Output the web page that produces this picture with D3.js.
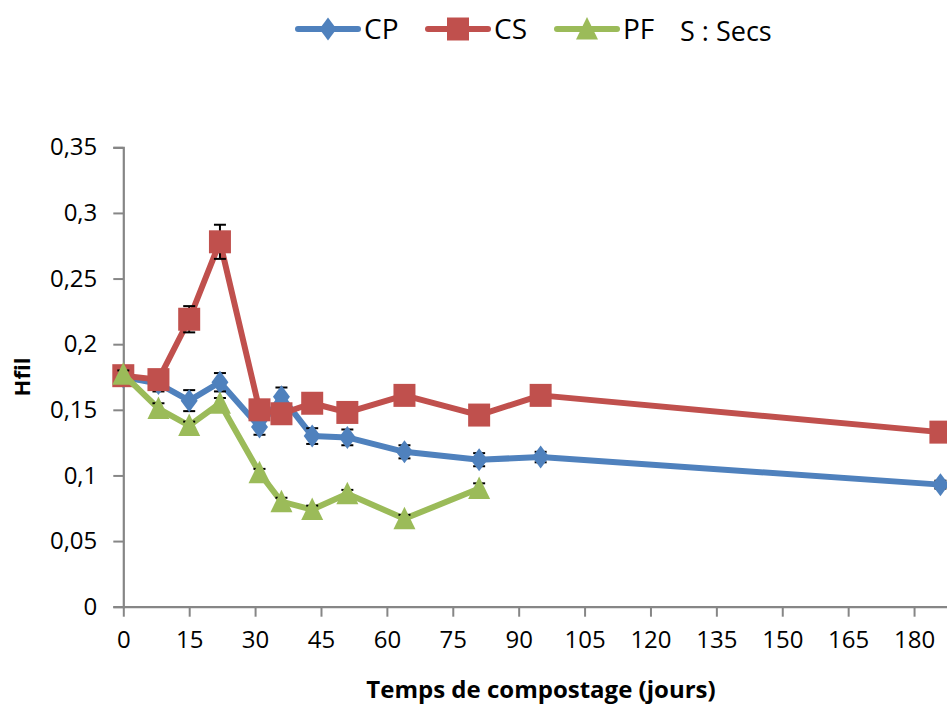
<!DOCTYPE html>
<html><head><meta charset="utf-8">
<script src="https://cdn.jsdelivr.net/npm/d3@7"></script>
<style>html,body{margin:0;padding:0;background:#fff;}svg{display:block;}</style>
</head><body>
<svg id="chart" width="947" height="705"></svg>
<script>
const days = [0, 8, 15, 22, 31, 36, 43, 51, 64, 81, 95, 186];
const cpValues = [0.175, 0.170, 0.157, 0.171, 0.137, 0.160, 0.130, 0.129, 0.118, 0.112, 0.114, 0.093];
const cpErrors = [0.004, 0.006, 0.008, 0.007, 0.006, 0.007, 0.006, 0.006, 0.005, 0.005, 0.004, 0.003];
const csValues = [0.176, 0.173, 0.219, 0.278, 0.150, 0.147, 0.155, 0.148, 0.161, 0.146, 0.161, 0.133];
const csErrors = [0.003, 0.004, 0.010, 0.013, 0.004, 0.004, 0.005, 0.003, 0.003, 0.003, 0.003, 0.003];
const pfDays = [0, 8, 15, 22, 31, 36, 43, 51, 64, 81];
const pfValues = [0.177, 0.151, 0.138, 0.155, 0.102, 0.080, 0.074, 0.086, 0.067, 0.090];
const pfErrors = [0.003, 0.004, 0.003, 0.004, 0.003, 0.003, 0.003, 0.003, 0.003, 0.004];
const xTicks = [0, 15, 30, 45, 60, 75, 90, 105, 120, 135, 150, 165, 180];
const yTicks = [0, 0.05, 0.1, 0.15, 0.2, 0.25, 0.3, 0.35];
const seriesNames = ["CP", "CS", "PF"];
const legendNote = "S : Secs";
const xTitle = "Temps de compostage (jours)";
const yTitle = "Hfil";

const colors = {CP: "#4F81BD", CS: "#C0504D", PF: "#9BBB59"};
const font = "'Open Sans', 'Liberation Sans', sans-serif";

const svg = d3.select("#chart");
const x = d3.scaleLinear().domain([0, 187.5]).range([123.3, 947]);
const y = d3.scaleLinear().domain([0, 0.35]).range([606.7, 147.3]);

// axes
const axisColor = "#868686";
const xAxis = svg.append("g").attr("transform", `translate(0,${y(0)})`)
  .call(d3.axisBottom(x).tickValues(xTicks).tickSize(10).tickPadding(10).tickFormat(d3.format("d")));
const yAxis = svg.append("g").attr("transform", `translate(${x(0)},0)`)
  .call(d3.axisLeft(y).tickValues(yTicks).tickSize(10).tickPadding(16)
    .tickFormat(d => d === 0 ? "0" : String(d).replace(".", ",")));
[xAxis, yAxis].forEach(g => {
  g.select(".domain").attr("stroke", axisColor).attr("stroke-width", 2.2);
  g.selectAll(".tick line").attr("stroke", axisColor).attr("stroke-width", 2);
  g.selectAll(".tick text").attr("fill", "#000").style("font-family", font).style("font-size", "24px");
});
xAxis.select(".domain").attr("d", `M${x(0)},0.5H947`);
xAxis.selectAll(".tick text").attr("dy", "0.88em");

// markers
function markerPath(name) {
  if (name === "CP") return "M0,-11.5L8.5,0L0,11.5L-8.5,0Z";
  if (name === "CS") return "M-11,-11.5H11V11.5H-11Z";
  return "M0,-12L11,10.5H-11Z";
}

const series = [
  {name: "CP", xs: days, ys: cpValues, es: cpErrors},
  {name: "CS", xs: days, ys: csValues, es: csErrors},
  {name: "PF", xs: pfDays, ys: pfValues, es: pfErrors}
];

const line = d3.line().x(d => x(d[0])).y(d => y(d[1]));
series.forEach(s => {
  const pts = s.xs.map((d, i) => [d, s.ys[i], s.es[i]]);
  const g = svg.append("g");
  g.append("path").datum(pts).attr("d", line).attr("fill", "none")
    .attr("stroke", colors[s.name]).attr("stroke-width", 6).attr("stroke-linejoin", "round");
  const eb = g.append("g").attr("stroke", "#000").attr("stroke-width", 2);
  pts.forEach(p => {
    const cx = x(p[0]);
    eb.append("line").attr("x1", cx).attr("x2", cx).attr("y1", y(p[1] - p[2])).attr("y2", y(p[1] + p[2]));
    eb.append("line").attr("x1", cx - 6).attr("x2", cx + 6).attr("y1", y(p[1] + p[2])).attr("y2", y(p[1] + p[2]));
    eb.append("line").attr("x1", cx - 6).attr("x2", cx + 6).attr("y1", y(p[1] - p[2])).attr("y2", y(p[1] - p[2]));
  });
  g.selectAll("path.m").data(pts).enter().append("path").attr("class", "m")
    .attr("d", markerPath(s.name))
    .attr("transform", d => `translate(${x(d[0])},${y(d[1])})`)
    .attr("fill", colors[s.name]);
});

// legend
const legendX = [298, 428, 557];
const legendY = 29;
seriesNames.forEach((n, i) => {
  const lg = svg.append("g").attr("transform", `translate(${legendX[i]},${legendY})`);
  lg.append("line").attr("x1", 0).attr("x2", 60).attr("stroke", colors[n]).attr("stroke-width", 6).attr("stroke-linecap", "round");
  lg.append("path").attr("d", markerPath(n)).attr("transform", "translate(30,0)").attr("fill", colors[n]);
  lg.append("text").attr("x", 66).attr("y", 10).text(n)
    .style("font-family", font).style("font-size", "28px").attr("fill", "#000");
});
svg.append("text").attr("x", 680).attr("y", 41).text(legendNote)
  .style("font-family", font).style("font-size", "27px").attr("fill", "#000");

// titles
svg.append("text").attr("x", 541).attr("y", 698).attr("text-anchor", "middle").text(xTitle)
  .style("font-family", font).style("font-size", "24px").style("font-weight", "bold").attr("fill", "#000");
svg.append("text").attr("transform", "translate(30,377) rotate(-90)").attr("text-anchor", "middle").text(yTitle)
  .style("font-family", font).style("font-size", "22px").style("font-weight", "bold").attr("fill", "#000");
</script>
</body></html>
